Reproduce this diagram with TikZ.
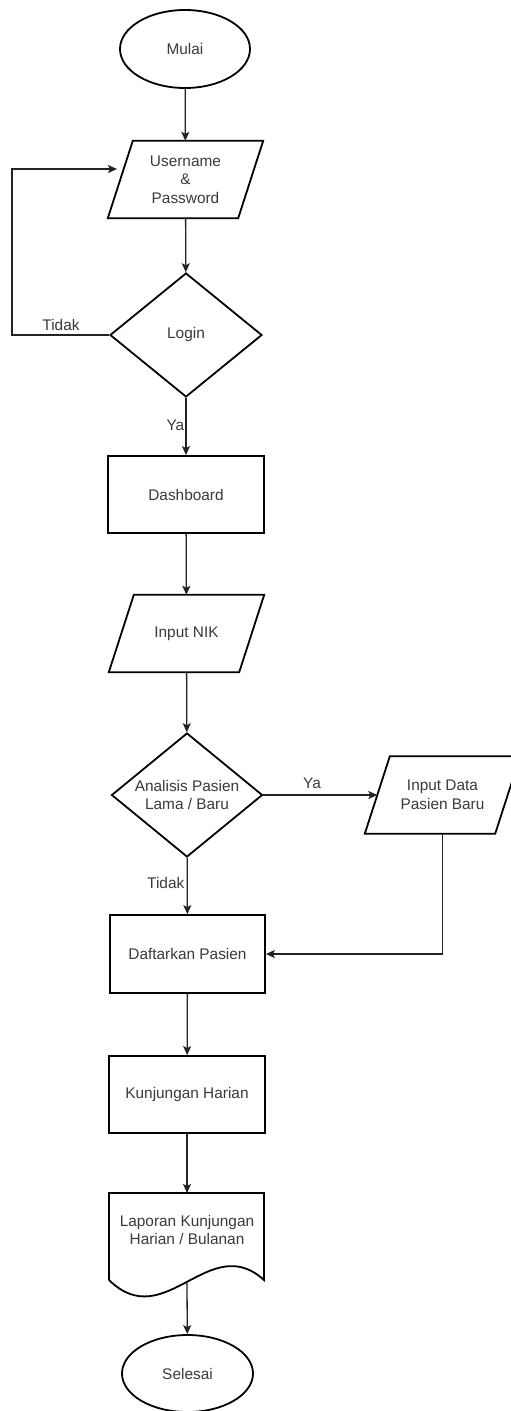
\documentclass[tikz,border=0pt]{standalone}
\usepackage{fontspec}
\setmainfont{Liberation Sans}
\usetikzlibrary{shapes.geometric,arrows.meta}
\definecolor{txtc}{HTML}{3A3A3A}
\definecolor{linec}{HTML}{222222}
\newcommand{\ioshape}[1]{\draw[border, line join=miter] ([xshift=12.5pt]#1.north west) -- ([xshift=12.5pt]#1.north east) -- ([xshift=-12.5pt]#1.south east) -- ([xshift=-12.5pt]#1.south west) -- cycle;}
\begin{document}
\begin{tikzpicture}[x=1pt,y=-1pt,
  txt/.style={font=\fontsize{15.4}{18.5}\selectfont, text=txtc, align=center},
  border/.style={draw=black, line width=1.8pt},
  term/.style={ellipse, border, txt, minimum width=130pt, minimum height=78pt, inner sep=0pt},
  proc/.style={rectangle, border, txt, minimum width=156pt, minimum height=77pt, inner sep=0pt},
  io/.style={rectangle, txt, minimum width=130pt, minimum height=77pt, inner sep=0pt},
  dec/.style={diamond, border, txt, minimum width=152pt, minimum height=124pt, inner sep=0pt, aspect=1.23},
  conn/.style={draw=linec, line width=1.3pt, -{Stealth[length=9pt,width=8pt,inset=2pt]}},
  lab/.style={txt, inner sep=0pt}
]
\useasboundingbox[fill=white] (0,0) rectangle (511,1411);

\node[term] (mulai) at (185,49) {Mulai};
\node[io] (user) at (185.5,179.5) {Username\\\&\\Password};
\ioshape{user}
\node[dec] (login) at (186,335) {Login};
\node[proc] (dash) at (186,494.5) {Dashboard};
\node[io] (nik) at (186.5,633.5) {Input NIK};
\ioshape{nik}
\node[dec, minimum width=151pt] (ana) at (187,795) {Analisis Pasien\\Lama / Baru};
\node[io] (inp) at (442.5,795) {Input Data\\Pasien Baru};
\ioshape{inp}
\node[proc, minimum width=155pt, minimum height=78pt] (daft) at (187.5,954) {Daftarkan Pasien};
\node[proc] (kunj) at (187,1094.5) {Kunjungan Harian};
\node[lab, minimum width=155pt] (lap) at (187,1230) {Laporan Kunjungan\\Harian / Bulanan};
\node[term, minimum width=131pt, minimum height=77pt] (sel) at (187.5,1373.5) {Selesai};

% document shape
\draw[border, line join=miter] (109,1280) -- (109,1193) -- (264,1193) -- (264,1280)
  .. controls (209,1230) and (165,1335) .. (109,1280);
\coordinate (lapt) at (187,1193);
\coordinate (lapb) at (187,1282);

% connectors
\draw[conn] (mulai) -- (user);
\draw[conn] (user) -- (login);
\coordinate (loopA) at (12,335);
\coordinate (loopend) at (117,169);
\draw[conn] (login.west) -- (loopA) |- (loopend);
\node[lab] (tidak1) at (61,325) {Tidak};
\draw[conn] (login) -- (dash);
\node[lab, anchor=east] (ya1) at (184.5,425) {Ya};
\draw[conn] (dash) -- (nik);
\draw[conn] (nik) -- (ana);
\draw[conn] (ana.east) -- (inp.west);
\node[lab] (ya2) at (312,783) {Ya};
\draw[conn] (ana) -- (daft);
\node[lab, anchor=east] (tidak2) at (184.5,883) {Tidak};
\coordinate (bend) at (442.5,954);
\draw[conn] (inp.south) -- (bend) -- (daft.east);
\draw[conn] (daft) -- (kunj);
\draw[conn] (kunj) -- (lapt);
\draw[conn] (lapb) -- (sel);
\end{tikzpicture}
\end{document}
